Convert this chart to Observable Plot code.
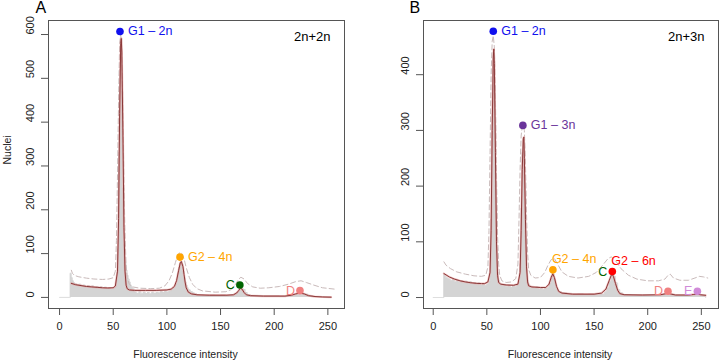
<!DOCTYPE html>
<html>
<head>
<meta charset="utf-8">
<script src="https://cdn.jsdelivr.net/npm/d3@7"></script>
<script src="https://cdn.jsdelivr.net/npm/@observablehq/plot@0.6"></script>
<style>
  html, body { margin: 0; padding: 0; background: #fff; }
  #wrap { position: relative; width: 719px; height: 362px; font-family: "Liberation Sans", Arial, sans-serif; }
  #wrap > div { position: absolute; top: 0; }
  svg { overflow: visible; }
</style>
</head>
<body>
<div id="wrap"><div id="pa" style="left:0"></div><div id="pb" style="left:360px"></div></div>
<script>
// ---------- Panel A (2n+2n) ----------
const histA_x = [0,9,10,11,12,13,14,16,18,20,22,24,26,28,30,32,34,36,38,40,42,44,46,48,50,52,53,54,55,56,57,58,59,60,61,62,63,64,65,66,67,68,70,72,74,76,78,80,82,84,86,88,90,92,94,96,98,100,102,104,106,108,110,111,112,113,114,115,116,117,118,119,120,122,124,126,128,130,135,140,145,150,155,160,163,165,167,169,171,173,175,178,185,195,205,212,217,220,223,226,229,232,236,245,253];
const histA_y = [0,0,55,45,38,34,31,28,30,26,28,24,27,23,26,22,25,21,24,20,23,19,22,18,21,24,40,110,330,520,592,470,250,120,80,62,50,42,35,28,24,19,12,9,13,8,12,9,11,8,12,9,11,10,13,11,14,12,15,18,22,32,55,68,78,82,76,60,45,35,28,22,17,13,10,8,6,5,4,5,4,5,4,5,7,11,17,21,18,11,6,4,3,3,2,3,5,7,9,9,7,4,2,1,0];
const fitA_x = [11,15,20,25,30,35,40,45,50,52,54,55,56,57,57.5,58,59,60,61,62,63,65,70,80,90,100,104,107,109,111,112.5,113.5,115,116,117,118,120,123,128,140,155,162,165,167,168.5,170,172,174,178,190,210,216,220,224,228,232,238,245,253];
const fitA_y = [32,29,27,25,24,23,22,21.5,22,26,60,180,420,580,591,560,380,160,60,28,20,17,16,16,16,17,19,25,38,62,79,82,70,52,35,22,12,8,6,5,5,6,10,16,21,19,11,6,4,3,3,5,8,10,8,4,2,1,0.5];
const dashA_x = [11,12,14,18,25,32,40,46,50,52,53,54,55,56,57,58,59,60,61,62,63,65,68,75,85,93,98,102,105,108,110,112,114,116,118,121,124,128,133,145,155,160,164,167,169,172,175,180,187,195,205,213,220,225,230,237,245,256];
const dashA_y = [62,55,50,47,44,42,41,42,45,60,130,280,450,580,600,560,420,260,140,75,45,30,24,21,20,21,26,38,55,80,95,103,100,88,68,45,30,20,15,12,13,18,30,42,46,42,32,24,21,22,25,30,36,38,34,28,22,19];
const peakA_label = ["G1 \u2013 2n","G2 \u2013 4n","C","D"];
const peakA_x = [56.3,112.2,168,224];
const peakA_y = [607,92,28.5,15.5];
const peakA_color = ["#1010ee","#ffa500","#006400","#f08080"];
const peakA_side = ["right","right","left","left"];
const ticksAy = [0,100,200,300,400,500,600];

// ---------- Panel B (2n+3n) ----------
const histB_x = [0,9,10,11,12,14,16,18,20,22,24,26,28,30,32,34,36,38,40,42,44,46,48,50,52,53,54,55,56,57,58,59,60,61,62,64,66,68,70,72,74,76,78,80,81,82,83,84,85,86,87,88,89,90,92,94,96,98,100,102,104,106,108,110,111,112,113,114,115,117,120,125,130,135,140,145,150,155,160,162,164,166,167,168,170,172,174,177,185,195,205,212,215,217,219,221,224,230,238,242,244,246,248,251,254];
const histB_y = [0,0,42,38,35,33,30,32,28,31,27,30,26,29,25,28,24,27,23,26,22,25,21,24,28,45,140,330,440,380,200,90,45,30,24,21,23,19,22,18,21,19,23,28,60,160,260,285,220,110,50,30,24,20,18,16,19,15,17,14,16,17,25,38,43,42,33,22,14,10,8,7,6,7,5,6,5,6,10,17,28,38,41,38,26,14,8,5,4,4,3,4,6,8,8,6,4,3,3,4,6,6,4,3,0];
const fitB_x = [10,15,20,25,30,35,40,45,48,51,53,54,55,56,56.5,57,58,59,60,61,63,68,75,79,81,82,83,84,84.5,85,86,87,88,89,92,100,105,108,110,111.5,113,115,117,120,130,150,157,161,164,166,167,168,170,172,174,178,195,212,216,219,222,226,238,243,246,249,254];
const fitB_y = [43,37,33,30,28,26.5,25.5,25,25,28,45,120,300,430,446,420,260,100,40,27,24,22.5,22,24,45,120,230,285,288,250,140,55,28,21,19,18,18,24,36,42.5,36,20,11,8,6,6,8,15,30,40,41.3,38,25,13,7,5,4.5,5,6.5,8,6,4.5,4.5,5.5,6.5,5,4];
const dashB_x = [10,12,16,22,30,38,45,49,51,52,53,54,55,56,57,58,59,60,61,62,64,68,73,77,79,80,81,82,83,84,85,86,87,88,89,91,95,100,104,107,110,113,116,120,126,135,145,152,158,163,166,170,175,182,190,200,210,216,219,221,224,230,238,244,248,252,256];
const dashB_y = [64,58,52,46,42,39,38,40,55,120,260,400,460,470,450,360,220,110,60,40,30,27,28,34,60,140,230,290,308,310,300,240,150,80,50,40,35,36,45,58,68,70,60,46,38,35,38,45,58,70,73,66,52,40,33,30,30,33,40,42,35,31,31,35,38,37,35];
const peakB_label = ["G1 \u2013 2n","G1 \u2013 3n","G2 \u2013 4n","C","G2 \u2013 6n","D","E"];
const peakB_x = [56,83.6,111.6,167,167,218.9,246.3];
const peakB_y = [478,309,49.7,46.7,46.7,11.3,11.3];
const peakB_color = ["#1010ee","#6a349a","#ffa500","#006400","#ff0000","#f08080","#d08ad8"];
const peakB_side = ["right","right","above","left","above","left","left"];
const ticksBy = [0,100,200,300,400];

const ticksX = [0,50,100,150,200,250];
const FONT = "Liberation Sans, Arial, sans-serif";

function pts(xs, ys) { return xs.map((x, i) => ({x, y: ys[i]})); }

function panel(cfg) {
  const hist = pts(cfg.hx, cfg.hy);
  const fit = pts(cfg.fx, cfg.fy);
  const dash = pts(cfg.dx, cfg.dy);
  const peaks = cfg.pl.map((l, i) => ({label: l, x: cfg.px[i], y: cfg.py[i], color: cfg.pc[i], side: cfg.ps[i]}));
  const dots = peaks.filter(p => !(p.label === "C" && cfg.hideC));
  const right = peaks.filter(p => p.side === "right");
  const left = peaks.filter(p => p.side === "left");
  const above = peaks.filter(p => p.side === "above");
  return Plot.plot({
    width: cfg.width, height: 362,
    marginLeft: cfg.ml, marginRight: cfg.mr, marginTop: 20, marginBottom: 54,
    style: {fontFamily: FONT, fontSize: "11px", color: "#222", background: "transparent"},
    x: {domain: cfg.xdom},
    y: {domain: cfg.ydom},
    marks: [
      Plot.areaY(hist, {x: "x", y: "y", curve: "step-after", fill: "#d4d4d4"}),
      Plot.line(hist, {x: "x", y: "y", curve: "step-after", stroke: "#d4d4d4", strokeWidth: 0.8}),
      Plot.line(dash, {x: "x", y: "y", stroke: "#c9baba", strokeWidth: 1, strokeDasharray: "5,3"}),
      Plot.line(fit, {x: "x", y: "y", stroke: "#e8a0a0", strokeWidth: 2.2, strokeOpacity: 0.6}),
      Plot.line(fit, {x: "x", y: "y", stroke: "#8a3838", strokeWidth: 1}),
      Plot.dot(dots, {x: "x", y: "y", fill: "color", r: 3.8}),
      Plot.text(right, {x: "x", y: "y", text: "label", fill: "color", textAnchor: "start", dx: 8, fontSize: 12.5}),
      Plot.text(left, {x: "x", y: "y", text: "label", fill: "color", textAnchor: "end", dx: -5, fontSize: 12.5}),
      Plot.text(above, {x: "x", y: "y", text: "label", fill: "color", textAnchor: "start", dx: -1, dy: -11, fontSize: 12.5}),
      Plot.text([cfg.tag], {frameAnchor: "top-right", dx: -14, dy: 11, fontSize: 13, fill: "#000"}),
      Plot.frame({stroke: "#555", strokeWidth: 1}),
      Plot.axisX({ticks: ticksX, tickSize: 7, tickPadding: 7, label: null, stroke: "#555", fill: "#222"}),
      Plot.axisY({ticks: cfg.ty, tickSize: 7, tickFormat: () => "", label: null, stroke: "#555"}),
      Plot.text(cfg.ty, {y: d => d, frameAnchor: "left", text: d => String(d), rotate: -90, dx: -18, fill: "#222", fontSize: 11}),
      Plot.text(["Fluorescence intensity"], {frameAnchor: "bottom", dx: -11, dy: 49, fontSize: 10.5, fill: "#222"}),
      Plot.text([cfg.letter], {frameAnchor: "top-left", dx: cfg.letterDx, dy: -19, fontSize: 16, fill: "#000"}),
      ...(cfg.ylabel ? [Plot.text([cfg.ylabel], {frameAnchor: "left", dx: -41, rotate: -90, fontSize: 10.5, fill: "#222"})] : [])
    ]
  });
}

document.getElementById("pa").appendChild(panel({
  width: 360, ml: 48, mr: 16, xdom: [-10.3, 265.5], ydom: [-25.3, 632],
  hx: histA_x, hy: histA_y, fx: fitA_x, fy: fitA_y, dx: dashA_x, dy: dashA_y,
  pl: peakA_label, px: peakA_x, py: peakA_y, pc: peakA_color, ps: peakA_side,
  ty: ticksAy, tag: "2n+2n", letter: "A", letterDx: -13, ylabel: "Nuclei"
}));
document.getElementById("pb").appendChild(panel({
  width: 359, ml: 63, mr: 1, xdom: [-9.05, 266.0], ydom: [-19.7, 497.3],
  hx: histB_x, hy: histB_y, fx: fitB_x, fy: fitB_y, dx: dashB_x, dy: dashB_y,
  pl: peakB_label, px: peakB_x, py: peakB_y, pc: peakB_color, ps: peakB_side,
  ty: ticksBy, tag: "2n+3n", letter: "B", letterDx: -14, ylabel: null, hideC: true
}));
</script>
</body>
</html>
